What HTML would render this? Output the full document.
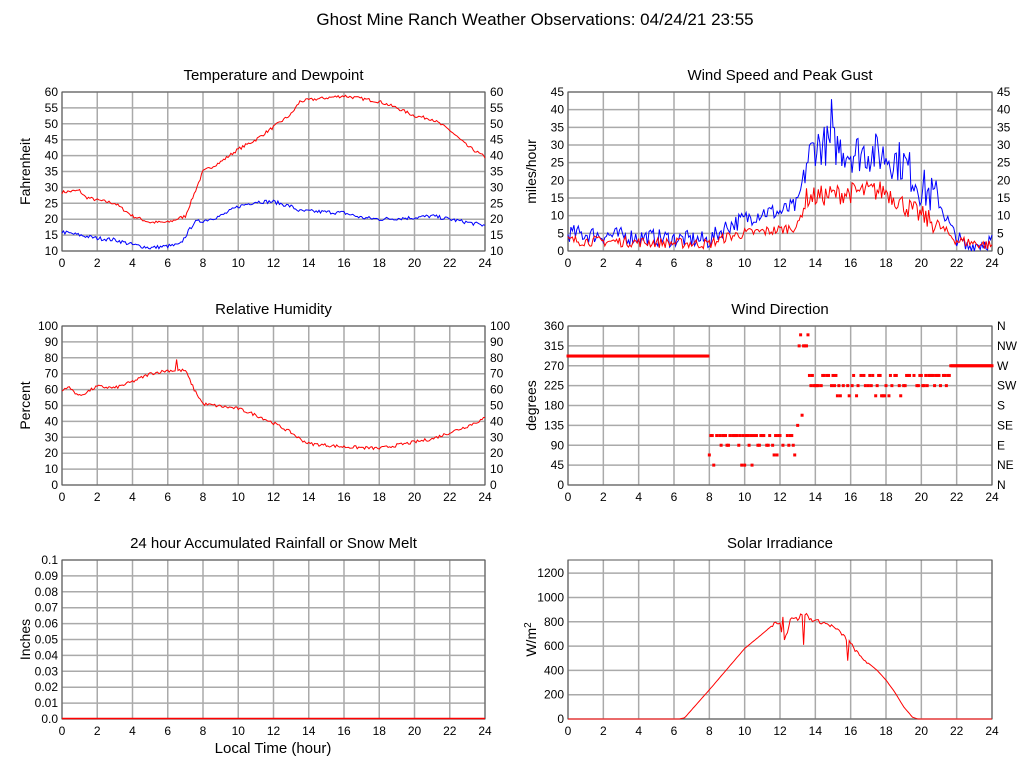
<!DOCTYPE html>
<html><head><meta charset="utf-8"><style>
body{margin:0;background:#fff;}
svg{display:block;font-family:"Liberation Sans",sans-serif;}
</style></head><body>
<svg id="s" width="1027" height="772" xmlns="http://www.w3.org/2000/svg">
<text x="535" y="25" font-size="17" text-anchor="middle">Ghost Mine Ranch Weather Observations: 04/24/21 23:55</text>
</svg>
<script>
var S=document.getElementById('s'),NS='http://www.w3.org/2000/svg';
var seed=7;function rnd(){seed=(seed*16807)%2147483647;return seed/2147483647;}
function el(t,a,txt){var e=document.createElementNS(NS,t);for(var k in a)e.setAttribute(k,a[k]);if(txt!==undefined)e.textContent=txt;S.appendChild(e);return e;}
function interp(kp,h){for(var i=0;i<kp.length-1;i++){if(h<=kp[i+1][0]){var a=kp[i],b=kp[i+1];var t=(h-a[0])/(b[0]-a[0]);return a[1]+t*(b[1]-a[1]);}}return kp[kp.length-1][1];}
function panel(p){
 var X=function(h){return p.x0+(p.x1-p.x0)*h/24;},Y=function(v){return p.y1-(p.y1-p.y0)*(v-p.ymin)/(p.ymax-p.ymin);};
 p.X=X;p.Y=Y;
 for(var h=0;h<=24;h+=2){el('line',{x1:X(h),x2:X(h),y1:p.y0,y2:p.y1,stroke:'#aaa','stroke-width':1.5});
  el('text',{x:X(h),y:p.y1+16,'font-size':12,'text-anchor':'middle'},h);}
 p.ticks.forEach(function(t,i){var y=Y(t);el('line',{x1:p.x0,x2:p.x1,y1:y,y2:y,stroke:'#aaa','stroke-width':1.5});
  el('text',{x:p.x0-4,y:y+4,'font-size':12,'text-anchor':'end'},p.lab?p.lab[i]:t);
  if(p.right)el('text',{x:p.x1+5,y:y+4,'font-size':12},p.right[i]);});
 el('rect',{x:p.x0,y:p.y0,width:p.x1-p.x0,height:p.y1-p.y0,fill:'none',stroke:'#555','stroke-width':1});
 el('text',{x:(p.x0+p.x1)/2,y:p.y0-12,'font-size':15,'text-anchor':'middle'},p.title);
 var t=el('text',{x:0,y:0,'font-size':14,'text-anchor':'middle',transform:'translate('+(p.x0-32)+','+((p.y0+p.y1)/2)+') rotate(-90)'},p.ylabel);
 return t;
}
function series(p,kp,noise,color,spikes,clampMin){
 var pts=[];for(var i=0;i<=288;i++){var h=i/12,v=interp(kp,h)+(rnd()-0.5)*2*noise(h);
  if(spikes)spikes.forEach(function(s){if(Math.abs(h-s[0])<0.05)v=s[1];});
  if(clampMin!==undefined&&v<clampMin)v=clampMin;pts.push(p.X(h).toFixed(1)+','+p.Y(v).toFixed(1));}
 el('polyline',{points:pts.join(' '),fill:'none',stroke:color,'stroke-width':1});
}
// Temperature
var T={x0:62,x1:485,y0:92,y1:251,ymin:10,ymax:60,ticks:[10,15,20,25,30,35,40,45,50,55,60],title:'Temperature and Dewpoint',ylabel:'Fahrenheit'};
T.right=T.ticks;panel(T);
series(T,[[0,28.5],[1,29],[1.3,27],[2,26],[3,25],[4,21],[5,19],[6,19],[7,21],[7.5,28],[8,35],[9,38],[10,42],[11,45],[12,49],[13,53],[13.5,57],[14,57.5],[16,58.8],[18,57],[19,55],[20,52.5],[21,51.5],[22,48],[23,43],[24,39.5]],function(){return 0.5;},'#f00');
series(T,[[0,16],[1,15],[2,14],[3,13.5],[4,12],[5,11],[6,11.5],[6.7,12],[7.5,19],[8,19.5],[9,21],[10,24],[11,25.5],[12,25.5],[13,24],[13.5,22.5],[14,22.5],[16,22],[17,20.5],[18,20],[20,20.5],[21,21],[22,20],[23,19],[24,18]],function(){return 0.6;},'#00f');
// Wind
var W={x0:568,x1:992,y0:92,y1:251,ymin:0,ymax:45,ticks:[0,5,10,15,20,25,30,35,40,45],title:'Wind Speed and Peak Gust',ylabel:'miles/hour'};
W.right=W.ticks;panel(W);
series(W,[[0,5],[8,3],[9,7],[10,9],[11,11],[12,11],[13,13],[13.5,25],[14,30],[15,30],[16,28],[17,28],[18,27],[19,25],[20,18],[21,14],[21.8,5],[22.5,1],[24,3]],function(h){return h>13.4&&h<21?6:2.5;},'#00f',[[14.9,43]],0);
series(W,[[0,3],[8,2],[9,4],[10,5],[12,6],[13,7],[13.5,15],[15,16],[17,17],[18,17],[19,13],[20,10],[21,7],[22,3],[24,1.5]],function(h){return h>13.4&&h<21?3:1.5;},'#f00',null,0);
// RH
var R={x0:62,x1:485,y0:326,y1:485,ymin:0,ymax:100,ticks:[0,10,20,30,40,50,60,70,80,90,100],title:'Relative Humidity',ylabel:'Percent'};
R.right=R.ticks;panel(R);
series(R,[[0,59],[0.3,62],[1,56],[2,62],[3,61],[4,65],[5,70],[6,72],[7,72],[7.5,60],[8,51],[10,48],[11,44],[12,39],[13,33],[13.5,29],[14,26],[15,25],[16,24],[18,23],[19,25],[20,27],[21,29],[22,33],[23,37],[24,42]],function(){return 1;},'#f00',[[6.5,79]]);
// Wind dir
var D={x0:568,x1:992,y0:326,y1:485,ymin:0,ymax:360,ticks:[0,45,90,135,180,225,270,315,360],title:'Wind Direction',ylabel:'degrees',right:['N','NE','E','SE','S','SW','W','NW','N']};
panel(D);
for(var i=0;i<=288;i++){var h=i/12,v,r=rnd();
 if(h<8)v=292;else if(h<13){v=r<0.7?112:(r<0.85?90:(r<0.95?68:45));if(rnd()<0.2)continue;}
 else if(h<13.6){v=[135,158,180,202,340,315][Math.floor(r*6)];}
 else if(h<21.6){v=r<0.35?248:(r<0.7?225:202);if(h>19)v=r<0.7?248:225;if(rnd()<0.25)continue;}
 else v=270;
 el('rect',{x:D.X(h)-1.5,y:D.Y(v)-1.5,width:3,height:3,fill:'#f00'});}
// Rain
var Rn={x0:62,x1:485,y0:560,y1:719,ymin:0,ymax:0.1,ticks:[0,0.01,0.02,0.03,0.04,0.05,0.06,0.07,0.08,0.09,0.1],lab:['0.0','0.01','0.02','0.03','0.04','0.05','0.06','0.07','0.08','0.09','0.1'],title:'24 hour Accumulated Rainfall or Snow Melt',ylabel:'Inches'};
panel(Rn);
el('line',{x1:62,x2:485,y1:718.5,y2:718.5,stroke:'#f00','stroke-width':1.5});
el('text',{x:273,y:753,'font-size':15,'text-anchor':'middle'},'Local Time (hour)');
// Solar
var So={x0:568,x1:992,y0:560,y1:719,ymin:0,ymax:1308,ticks:[0,200,400,600,800,1000,1200],title:'Solar Irradiance',ylabel:''};
var yl=panel(So);yl.textContent='W/m';var ts=document.createElementNS(NS,'tspan');ts.setAttribute('dy','-5');ts.setAttribute('font-size','10');ts.textContent='2';yl.appendChild(ts);
el('line',{x1:568,x2:992,y1:560,y2:560,stroke:'#555'});
series(So,[[0,0],[6.3,0],[6.6,10],[8,240],[10,580],[11,700],[11.8,800],[12,780],[12.2,650],[12.4,700],[12.6,840],[13,820],[13.2,860],[13.3,870],[13.5,860],[13.7,820],[14,810],[14.5,790],[15,760],[15.5,700],[16,620],[16.5,520],[17,460],[17.5,400],[18,320],[18.5,220],[19,100],[19.5,15],[19.8,0],[24,0]],function(h){return h>11.5&&h<17?15:0;},'#f00',[[12.2,640],[13.3,610],[15.8,480],[12.15,840]],0);
</script>
</body></html>
